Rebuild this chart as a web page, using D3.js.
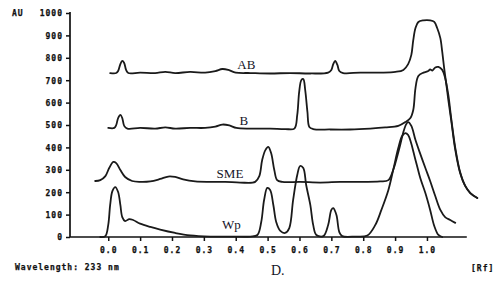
<!DOCTYPE html>
<html>
<head>
<meta charset="utf-8">
<script src="https://cdn.jsdelivr.net/npm/d3@7"></script>
<style>
html,body{margin:0;padding:0;background:#fff;}
svg{display:block;}
.tk{font-family:"DejaVu Sans Mono",monospace;font-weight:bold;font-size:8px;letter-spacing:1px;fill:#111;stroke:#111;stroke-width:0.25px;}
.lbl{font-family:"Liberation Serif","Times New Roman",serif;fill:#141428;}
</style>
</head>
<body>
<svg id="chart" width="500" height="282"></svg>
<script>
// Tick values
const xTicks = [0.0, 0.1, 0.2, 0.3, 0.4, 0.5, 0.6, 0.7, 0.8, 0.9, 1.0];
const yTicks = [0, 100, 200, 300, 400, 500, 600, 700, 800, 900, 1000];

// Series: [Rf, AU]
const seriesAB = [
  [0.006,732],[0.025,732],[0.031,741],[0.038,772],[0.044,786],[0.050,777],[0.056,746],[0.063,732],
  [0.100,734],[0.147,732],[0.179,737],[0.210,732],[0.257,737],[0.304,734],[0.336,741],[0.358,750],
  [0.377,746],[0.400,734],[0.446,732],[0.508,730],[0.571,732],[0.634,730],[0.690,734],[0.700,746],
  [0.706,772],[0.712,786],[0.719,768],[0.725,741],[0.737,732],[0.791,734],[0.853,734],[0.901,737],
  [0.926,746],[0.941,772],[0.951,813],[0.957,879],[0.964,933],[0.973,960],[0.989,967],[1.010,967],
  [1.023,960],[1.032,933],[1.042,888],[1.048,826],[1.054,754],[1.061,679],[1.067,612],[1.076,522],
  [1.089,388],[1.104,286],[1.120,228],[1.136,196],[1.158,174]
];
const seriesB = [
  [0.000,487],[0.019,487],[0.025,500],[0.031,531],[0.038,545],[0.044,531],[0.050,496],[0.060,484],
  [0.100,487],[0.147,484],[0.179,489],[0.210,484],[0.257,487],[0.304,487],[0.336,493],[0.358,502],
  [0.380,498],[0.402,487],[0.446,484],[0.508,484],[0.555,482],[0.584,484],[0.593,545],[0.599,647],
  [0.606,701],[0.612,705],[0.618,656],[0.625,558],[0.631,491],[0.643,482],[0.697,480],[0.759,480],
  [0.822,484],[0.869,489],[0.910,496],[0.932,513],[0.948,531],[0.957,567],[0.964,665],[0.973,719],
  [0.989,734],[1.004,741],[1.010,748],[1.017,743],[1.026,757],[1.036,759],[1.048,746],[1.057,710],
  [1.067,634],[1.076,531],[1.089,397],[1.104,290],[1.120,228],[1.136,196],[1.158,174]
];
const seriesSME = [
  [-0.041,250],[-0.025,254],[-0.009,272],[0.003,308],[0.016,335],[0.025,330],[0.038,299],[0.053,268],
  [0.075,250],[0.100,246],[0.132,248],[0.163,259],[0.188,270],[0.210,268],[0.235,257],[0.273,248],
  [0.320,246],[0.367,246],[0.414,243],[0.461,246],[0.474,272],[0.483,344],[0.493,388],[0.502,402],
  [0.511,375],[0.521,299],[0.530,254],[0.546,246],[0.602,246],[0.665,243],[0.728,246],[0.775,246],
  [0.853,248],[0.879,254],[0.894,299],[0.907,362],[0.916,411],[0.926,469],[0.935,504],[0.941,513],
  [0.951,496],[0.964,433],[0.979,371],[0.995,308],[1.010,250],[1.026,183],[1.042,121],[1.057,89],
  [1.073,76],[1.089,63]
];
const seriesWp = [
  [-0.025,0],[-0.009,4],[0.000,54],[0.006,143],[0.013,205],[0.022,223],[0.031,201],[0.038,143],
  [0.044,89],[0.053,71],[0.066,80],[0.078,76],[0.100,60],[0.132,45],[0.163,33],[0.210,18],
  [0.257,7],[0.320,2],[0.383,2],[0.446,2],[0.468,9],[0.480,67],[0.489,165],[0.499,219],
  [0.508,210],[0.518,143],[0.527,67],[0.540,27],[0.555,18],[0.568,40],[0.580,165],[0.593,277],
  [0.602,317],[0.612,308],[0.621,232],[0.634,143],[0.643,54],[0.653,9],[0.675,4],[0.690,54],
  [0.700,121],[0.706,129],[0.716,98],[0.725,22],[0.734,4],[0.775,2],[0.813,7],[0.838,54],
  [0.857,121],[0.879,210],[0.894,299],[0.910,397],[0.922,451],[0.932,464],[0.941,455],[0.964,344],
  [0.979,263],[0.995,196],[1.010,121],[1.023,49],[1.036,9],[1.048,0]
];
// Labels: [text, Rf, AU]
const labels = [["AB",0.405,750],["B",0.412,500],["SME",0.34,263],["Wp",0.357,36]];

const svg = d3.select("#chart");
const x = d3.scaleLinear().domain([-0.12, 1.125]).range([70, 466.8]);
const y = d3.scaleLinear().domain([0, 1000]).range([237, 13]);

// Axes
const yAxis = d3.axisLeft(y).tickValues(yTicks).tickSize(4).tickPadding(3).tickFormat(d3.format("d"));
const gy = svg.append("g").attr("transform", "translate(70,0)").call(yAxis);
gy.select(".domain").attr("d", `M0,${y(1000)-1}V${y(0)}`).attr("stroke","#111").attr("stroke-width",1.7);
gy.selectAll(".tick line").attr("stroke","#111").attr("stroke-width",1.5);
gy.selectAll(".tick text").attr("class","tk").attr("dy","0.35em").attr("text-anchor","end");

const xAxis = d3.axisBottom(x).tickValues(xTicks).tickSize(4).tickPadding(6).tickFormat(d3.format(".1f"));
const gx = svg.append("g").attr("transform", `translate(0,${y(0)})`).call(xAxis);
gx.select(".domain").attr("d", `M70,0H466.8`).attr("stroke","#111").attr("stroke-width",1.7);
gx.selectAll(".tick line").attr("stroke","#111").attr("stroke-width",1.5);
gx.selectAll(".tick text").attr("class","tk");

// Curves
const line = d3.line().x(d => x(d[0])).y(d => y(d[1])).curve(d3.curveCatmullRom.alpha(0.5));
[seriesAB, seriesB, seriesSME, seriesWp].forEach(s => {
  svg.append("path").datum(s).attr("d", line)
    .attr("fill","none").attr("stroke","#1a1a1a").attr("stroke-width",1.8)
    .attr("stroke-linejoin","round").attr("stroke-linecap","round");
});

// Series labels
svg.selectAll("text.series").data(labels).enter().append("text")
  .attr("class","lbl").attr("x", d => x(d[1])).attr("y", d => y(d[2]))
  .attr("font-size", 13).text(d => d[0]);

// Other texts
svg.append("text").attr("class","tk").attr("x",12).attr("y",16).text("AU");
svg.append("text").attr("class","tk").attr("x",15).attr("y",270).text("Wavelength: 233 nm");
svg.append("text").attr("class","tk").attr("x",471).attr("y",271).text("[Rf]");
svg.append("text").attr("class","lbl").attr("x",271).attr("y",275).attr("font-size",14).text("D.");
</script>
</body>
</html>
